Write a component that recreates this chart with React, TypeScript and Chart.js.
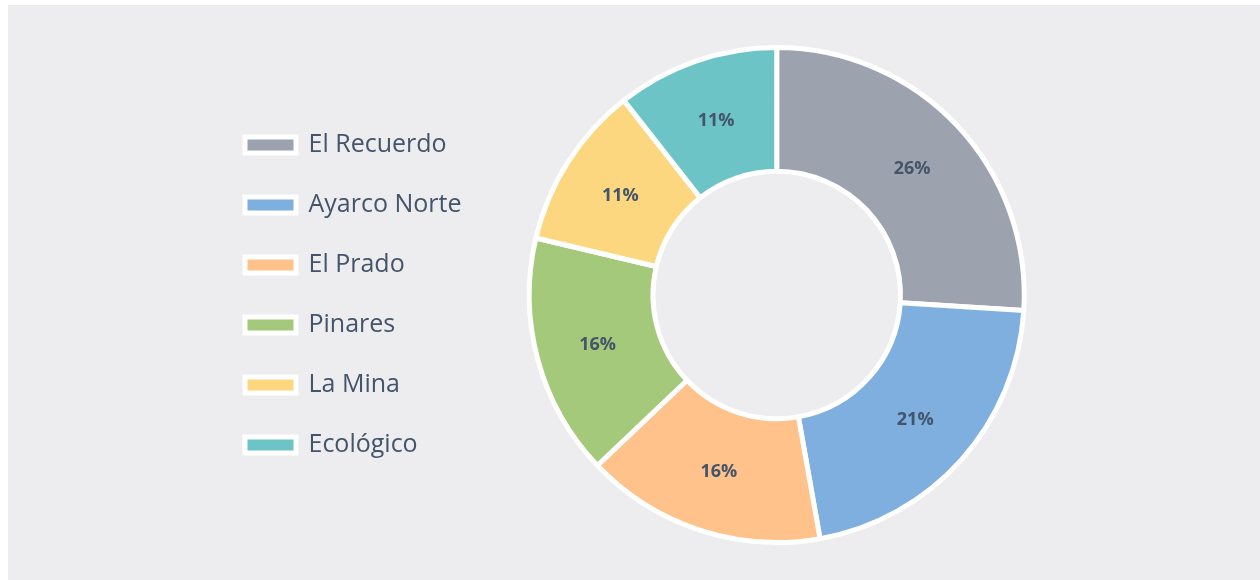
import React, { useEffect, useRef } from "react";
import { Chart, registerables } from "chart.js";

Chart.register(...registerables);

const categories = ["El Recuerdo", "Ayarco Norte", "El Prado", "Pinares", "La Mina", "Ecológico"];
const values = [26, 21.2, 15.7, 15.8, 10.7, 10.6];
const colors = ["#9CA3AE", "#7FAFDF", "#FFC28B", "#A4C97A", "#FDD780", "#6CC4C6"];

const textColor = "#44546A";
const fontFamily = "'Open Sans', Lato, sans-serif";

const pctPlugin = {
  id: "pctLabels",
  afterDatasetsDraw(chart: any) {
    const ctx = chart.ctx;
    const meta = chart.getDatasetMeta(0);
    const total = values.reduce((a, b) => a + b, 0);
    ctx.save();
    ctx.font = `bold 18px ${fontFamily}`;
    ctx.fillStyle = textColor;
    ctx.textAlign = "center";
    ctx.textBaseline = "middle";
    meta.data.forEach((arc: any, i: number) => {
      const p = arc.tooltipPosition(false);
      ctx.fillText(Math.round((values[i] / total) * 100) + "%", p.x, p.y + 1);
    });
    ctx.restore();
  },
};

export default function App() {
  const ref = useRef<HTMLCanvasElement | null>(null);
  useEffect(() => {
    if (!ref.current) return;
    const chart = new Chart(ref.current, {
      type: "doughnut",
      data: {
        labels: categories,
        datasets: [
          {
            data: values,
            backgroundColor: colors,
            borderColor: "#FFFFFF",
            borderWidth: 5,
          },
        ],
      },
      options: {
        responsive: true,
        maintainAspectRatio: false,
        animation: false,
        cutout: "50%",
        layout: { padding: { left: 202, right: 178, top: 40, bottom: 35 } },
        plugins: {
          tooltip: { enabled: false },
          legend: {
            position: "left",
            align: "center",
            labels: {
              boxWidth: 51,
              boxHeight: 16,
              padding: 35,
              color: textColor,
              font: { family: fontFamily, size: 25 },
            },
          },
        },
      },
      plugins: [pctPlugin],
    });
    return () => chart.destroy();
  }, []);
  return (
    <div
      style={{
        position: "absolute",
        left: 8,
        top: 5,
        width: 1252,
        height: 575,
        background: "#EDEDEF",
      }}
    >
      <canvas ref={ref} />
    </div>
  );
}
